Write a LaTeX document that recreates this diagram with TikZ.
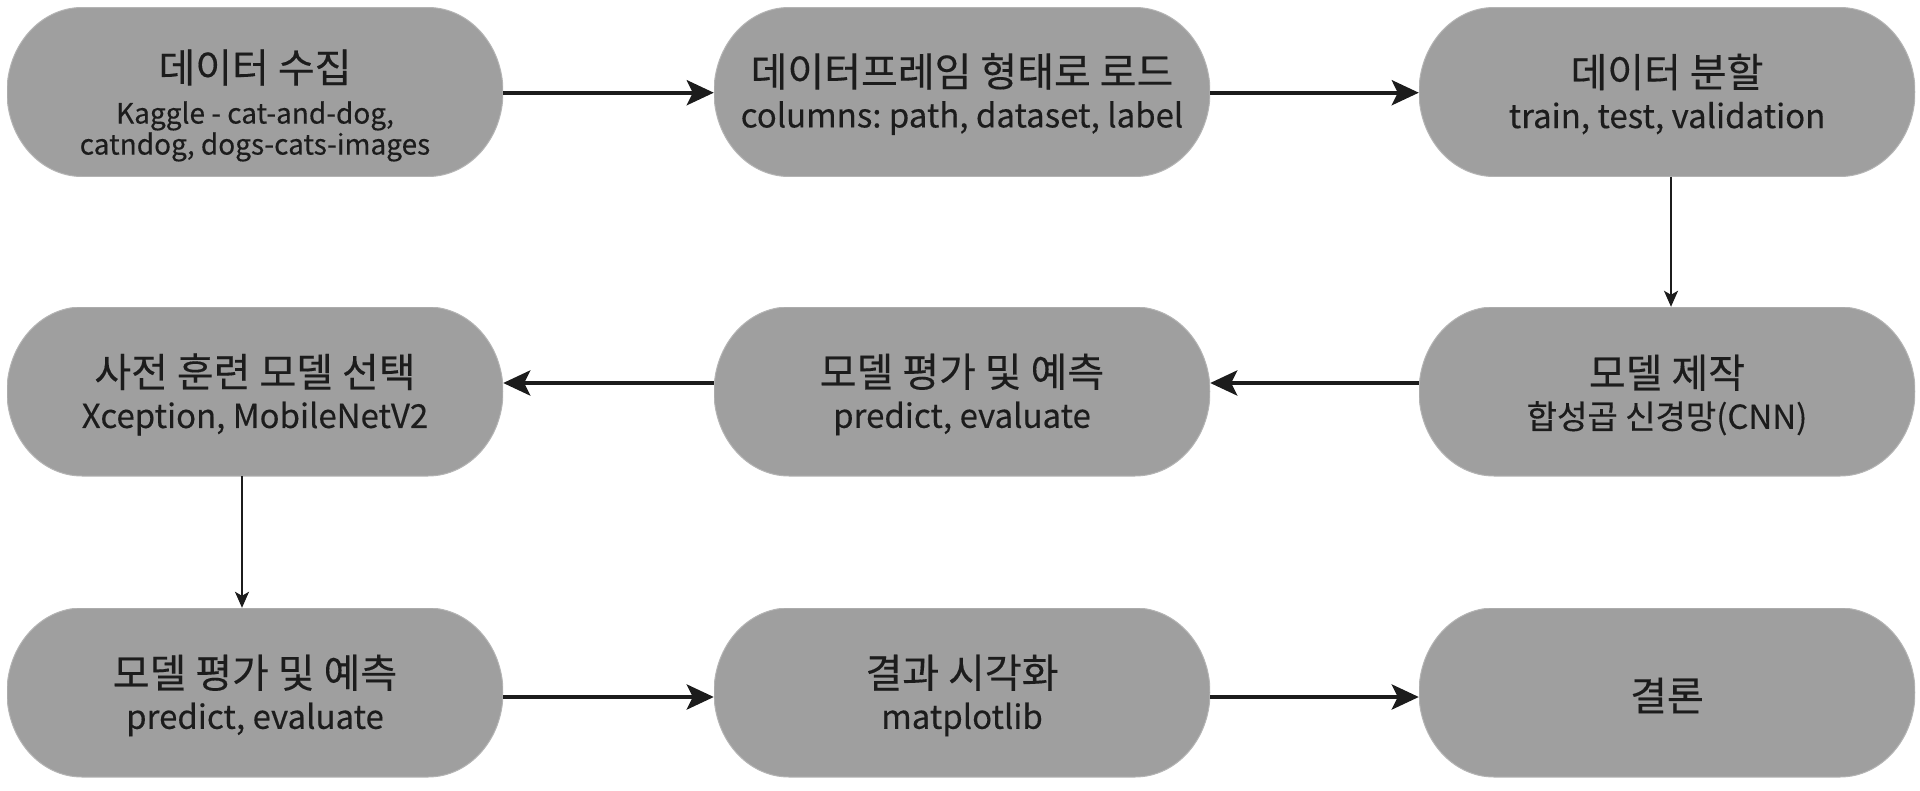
\documentclass[tikz,border=0pt]{standalone}
\usepackage{fontspec}
\setmainfont[FakeBold=0.3]{Noto Sans CJK KR}
\usetikzlibrary{arrows.meta}
\definecolor{boxgray}{HTML}{9F9F9F}
\definecolor{boxedge}{HTML}{B4B4B4}
\definecolor{ink}{HTML}{1C1C1C}
\newcommand{\ttl}[1]{{\fontsize{40}{44}\selectfont #1}}
\tikzset{
  stadium/.style={rectangle, fill=white, minimum width=496pt, minimum height=169pt,
    inner sep=0pt,
    path picture={
      \fill[boxgray, draw=boxedge, line width=1pt]
        ([xshift=75pt]path picture bounding box.north west) --
        ([xshift=-75pt]path picture bounding box.north east)
        arc[start angle=90, end angle=-90, x radius=75pt, y radius=84.5pt] --
        ([xshift=75pt]path picture bounding box.south west)
        arc[start angle=270, end angle=90, x radius=75pt, y radius=84.5pt] -- cycle;
    }},
  txt/.style={inner sep=0pt, align=center, text=ink, font=\fontsize{33}{31}\selectfont\frenchspacing},
  smalltxt/.style={txt, font=\fontsize{28}{31}\selectfont\frenchspacing},
  harrow/.style={draw=ink, line width=4pt, -{Stealth[length=27pt, width=25pt, inset=6pt]}},
  varrow/.style={draw=ink, line width=2pt, -{Stealth[length=16pt, width=14pt, inset=4pt]}}
}
\begin{document}
\begin{tikzpicture}[x=1pt, y=-1pt]
\useasboundingbox (0,0) rectangle (1920,790);
\node[stadium] (n1) at (255,92) {};
\node[stadium] (n2) at (962,92) {};
\node[stadium] (n3) at (1667,92) {};
\node[stadium] (n4) at (255,391.5) {};
\node[stadium] (n5) at (962,391.5) {};
\node[stadium] (n6) at (1667,391.5) {};
\node[stadium] (n7) at (255,692.5) {};
\node[stadium] (n8) at (962,692.5) {};
\node[stadium] (n9) at (1667,692.5) {};
\node[smalltxt] (t1) at (255,105.5) {\ttl{데이터 수집}\\[10pt]Kaggle - cat-and-dog,\\catndog, dogs-cats-images};
\node[txt] (t2) at (962,94) {\ttl{데이터프레임 형태로 로드}\\[10pt]columns: path, dataset, label};
\node[txt] (t3) at (1667,94) {\ttl{데이터 분할}\\[10pt]train, test, validation};
\node[txt] (t4) at (255,394.5) {\ttl{사전 훈련 모델 선택}\\[10pt]Xception, MobileNetV2};
\node[txt] (t5) at (962,394.5) {\ttl{모델 평가 및 예측}\\[10pt]predict, evaluate};
\node[txt] (t6) at (1667,395) {\ttl{모델 제작}\\[10pt]합성곱 신경망(CNN)};
\node[txt] (t7) at (255,695.5) {\ttl{모델 평가 및 예측}\\[10pt]predict, evaluate};
\node[txt] (t8) at (962,695.5) {\ttl{결과 시각화}\\[10pt]matplotlib};
\node[txt] (t9) at (1667,695.5) {\ttl{결론}};
\draw[harrow] ([yshift=-0.7pt]n1.east) -- ([yshift=-0.7pt]n2.west);
\draw[harrow] ([yshift=-0.7pt]n2.east) -- ([yshift=-0.7pt]n3.west);
\draw[varrow] ([xshift=4pt]n3.south) -- ([xshift=4pt]n6.north);
\draw[harrow] ([yshift=8.5pt]n6.west) -- ([yshift=8.5pt]n5.east);
\draw[harrow] ([yshift=8.5pt]n5.west) -- ([yshift=8.5pt]n4.east);
\draw[varrow] ([xshift=-13pt]n4.south) -- ([xshift=-13pt]n7.north);
\draw[harrow] ([yshift=-4.5pt]n7.east) -- ([yshift=-4.5pt]n8.west);
\draw[harrow] ([yshift=-4.5pt]n8.east) -- ([yshift=-4.5pt]n9.west);
\end{tikzpicture}
\end{document}
